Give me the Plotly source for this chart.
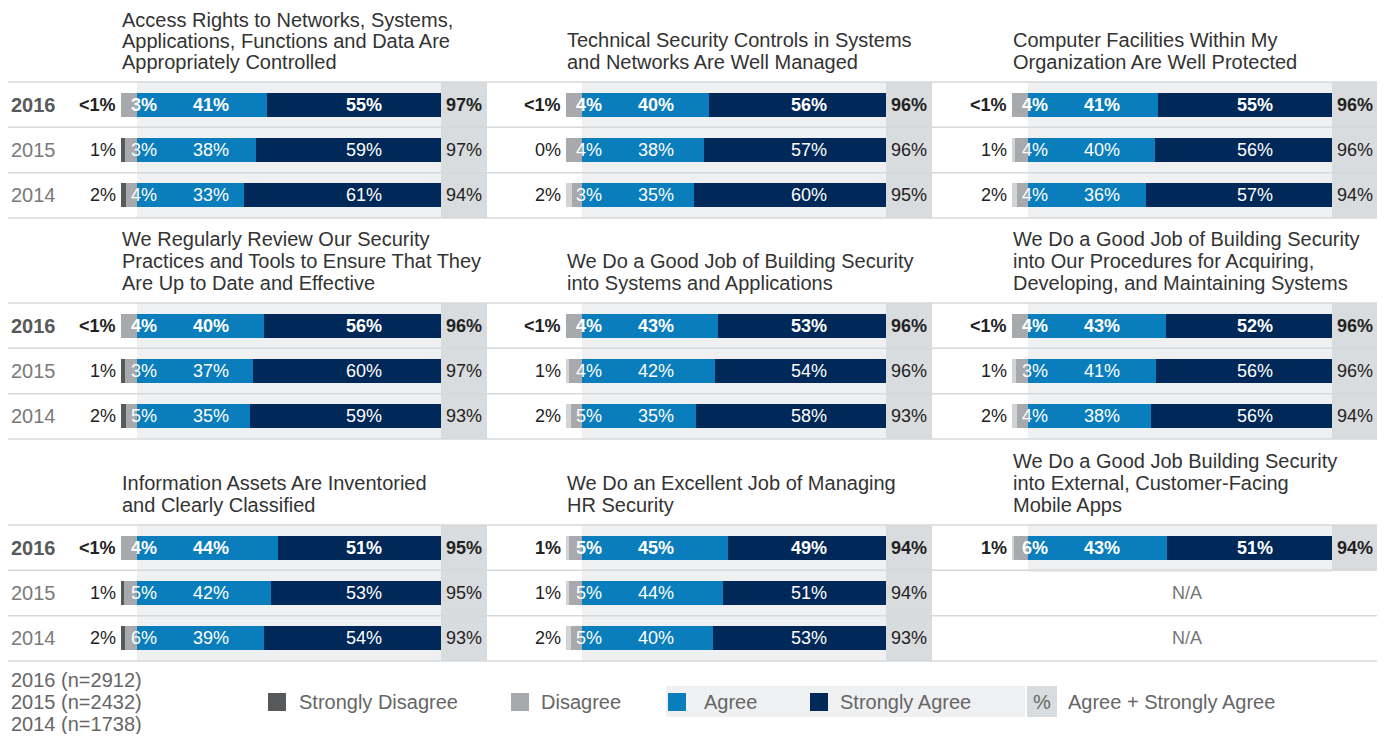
import plotly.graph_objects as go

# browser body has an 8px margin, so the figure sits at (8, 8)
OFF = 8
W, H = 1385 - 2 * OFF, 742 - 2 * OFF

years = ["2016", "2015", "2014"]
sample_sizes = ["2016 (n=2912)", "2015 (n=2432)", "2014 (n=1738)"]

titles = [
    ["Access Rights to Networks, Systems,", "Applications, Functions and Data Are", "Appropriately Controlled"],
    ["Technical Security Controls in Systems", "and Networks Are Well Managed"],
    ["Computer Facilities Within My", "Organization Are Well Protected"],
    ["We Regularly Review Our Security", "Practices and Tools to Ensure That They", "Are Up to Date and Effective"],
    ["We Do a Good Job of Building Security", "into Systems and Applications"],
    ["We Do a Good Job of Building Security", "into Our Procedures for Acquiring,", "Developing, and Maintaining Systems"],
    ["Information Assets Are Inventoried", "and Clearly Classified"],
    ["We Do an Excellent Job of Managing", "HR Security"],
    ["We Do a Good Job Building Security", "into External, Customer-Facing", "Mobile Apps"],
]

# 0.5 stands for "<1%"; None = N/A
strongly_disagree = [
    [0.5, 1, 2], [0.5, 0, 2], [0.5, 1, 2],
    [0.5, 1, 2], [0.5, 1, 2], [0.5, 1, 2],
    [0.5, 1, 2], [1, 1, 2], [1, None, None],
]
disagree = [
    [3, 3, 4], [4, 4, 3], [4, 4, 4],
    [4, 3, 5], [4, 4, 5], [4, 3, 4],
    [4, 5, 6], [5, 5, 5], [6, None, None],
]
agree = [
    [41, 38, 33], [40, 38, 35], [41, 40, 36],
    [40, 37, 35], [43, 42, 35], [43, 41, 38],
    [44, 42, 39], [45, 44, 40], [43, None, None],
]
strongly_agree = [
    [55, 59, 61], [56, 57, 60], [55, 56, 57],
    [56, 60, 59], [53, 54, 58], [52, 56, 56],
    [51, 53, 54], [49, 51, 53], [51, None, None],
]
agree_total = [
    [97, 97, 94], [96, 96, 95], [96, 96, 94],
    [96, 97, 93], [96, 96, 93], [96, 96, 94],
    [95, 95, 93], [94, 94, 93], [94, None, None],
]

C_SD_DARK = "#58595b"
C_SD_LIGHT = "#d1d3d4"
C_DIS = "#a7a9ac"
C_AGREE = "#0a7dbc"
C_SA = "#002858"
C_BG = "#eff0f2"
C_BOX = "#d9dcde"
C_LINE = "#d6d8da"
FONT = "Liberation Sans"
TITLE_SIZE = 20
LABEL_SIZE = 18

col_x = [121, 566, 1012]      # bar start, px
row_top = [82, 303, 525]      # panel top line, px
NEG_PX, POS_PX, BOX_PX = 16, 304, 46
ROW_H = 45.33
NEG = NEG_PX / POS_PX * 100   # width of disagree part in axis units


def px(x):
    return (x - OFF) / W


def py(y):
    return 1 - (y - OFF) / H


def pct(v):
    return "<1%" if 0 < v < 1 else f"{v:g}%"


fig = go.Figure()
shapes, annotations = [], []
layout_axes = {}

for k in range(9):
    r, c = divmod(k, 3)
    n = k + 1
    xa, ya = f"x{n}" if n > 1 else "x", f"y{n}" if n > 1 else "y"
    x0, top = col_x[c], row_top[r]
    layout_axes[f"xaxis{n if n > 1 else ''}"] = dict(
        domain=[px(x0), px(x0 + NEG_PX + POS_PX)], range=[-NEG, 100],
        visible=False, fixedrange=True, anchor=ya)
    layout_axes[f"yaxis{n if n > 1 else ''}"] = dict(
        domain=[py(top + 3 * ROW_H), py(top)], range=[2.5, -0.5],
        visible=False, fixedrange=True, anchor=xa)

    rows = [i for i in range(3) if agree[k][i] is not None]
    seg = {"sd": [], "sd_b": [], "d": [], "d_b": [], "a": [], "sa": [], "sa_b": []}
    for i in rows:
        # values under 1% are not drawn in the original
        sd_v = strongly_disagree[k][i] if strongly_disagree[k][i] >= 1 else 0
        neg = sd_v + disagree[k][i]
        sd_len = sd_v / neg * NEG
        a_len = agree[k][i] / (agree[k][i] + strongly_agree[k][i]) * 100
        seg["sd"].append(sd_len); seg["sd_b"].append(-NEG)
        seg["d"].append(NEG - sd_len); seg["d_b"].append(-NEG + sd_len)
        seg["a"].append(a_len)
        seg["sa"].append(100 - a_len); seg["sa_b"].append(a_len)

    sd_col = C_SD_DARK if c == 0 else C_SD_LIGHT
    for xs, base, col in [(seg["sd"], seg["sd_b"], sd_col),
                          (seg["d"], seg["d_b"], C_DIS),
                          (seg["a"], [0] * len(rows), C_AGREE),
                          (seg["sa"], seg["sa_b"], C_SA)]:
        fig.add_trace(go.Bar(x=xs, y=rows, base=base, orientation="h", width=0.53,
                             marker=dict(color=col, line=dict(width=0)),
                             xaxis=xa, yaxis=ya, showlegend=False, hoverinfo="skip"))

    # backgrounds
    nrows = len(rows)
    bottom = top + (3 * ROW_H if nrows == 3 else ROW_H + 2)
    shapes.append(dict(type="rect", xref="paper", yref="paper", layer="below",
                       x0=px(x0 + NEG_PX), x1=px(x0 + NEG_PX + POS_PX),
                       y0=py(bottom), y1=py(top), fillcolor=C_BG, line_width=0))
    shapes.append(dict(type="rect", xref="paper", yref="paper", layer="below",
                       x0=px(x0 + NEG_PX + POS_PX), x1=px(x0 + NEG_PX + POS_PX + BOX_PX),
                       y0=py(top + (3 * ROW_H if nrows == 3 else ROW_H)), y1=py(top),
                       fillcolor=C_BOX, line_width=0))

    # title, one annotation per line so the line spacing matches
    lines = titles[k]
    gap = 21 if (r == 0 and len(lines) == 3) else 22
    for j, line in enumerate(lines):
        ty = top - 20 - gap * (len(lines) - 1 - j)
        annotations.append(dict(text=line, xref="paper", yref="paper",
                                x=px(x0 - 1), y=py(ty), xanchor="left", yanchor="middle",
                                showarrow=False,
                                font=dict(family=FONT, size=TITLE_SIZE, color="#333333")))

    for i in range(3):
        bold = i == 0
        wt = "bold" if bold else "normal"
        if agree[k][i] is None:
            annotations.append(dict(text="N/A", xref="paper", yref=ya,
                                    x=px(x0 + 175), y=i, xanchor="center", showarrow=False,
                                    font=dict(family=FONT, size=LABEL_SIZE, color="#777777")))
            continue
        common = dict(yref=ya, y=i, showarrow=False, yanchor="middle")
        annotations.append(dict(text=pct(strongly_disagree[k][i]), xref="paper",
                                x=px(x0 - 3), xanchor="right",
                                font=dict(family=FONT, size=LABEL_SIZE, color="#222222", weight=wt), **common))
        annotations.append(dict(text=pct(disagree[k][i]), xref=xa, x=0, xshift=7,
                                xanchor="center",
                                font=dict(family=FONT, size=LABEL_SIZE, color="white", weight=wt), **common))
        annotations.append(dict(text=pct(agree[k][i]), xref=xa, x=24.3, xanchor="center",
                                font=dict(family=FONT, size=LABEL_SIZE, color="white", weight=wt), **common))
        annotations.append(dict(text=pct(strongly_agree[k][i]), xref=xa, x=74.7,
                                xanchor="center",
                                font=dict(family=FONT, size=LABEL_SIZE, color="white", weight=wt), **common))
        annotations.append(dict(text=pct(agree_total[k][i]), xref="paper",
                                x=px(x0 + NEG_PX + POS_PX + BOX_PX / 2), xanchor="center",
                                font=dict(family=FONT, size=LABEL_SIZE, color="#222222", weight=wt), **common))
        if c == 0:
            annotations.append(dict(text=years[i], xref="paper", x=px(9), xanchor="left",
                                    font=dict(family=FONT, size=TITLE_SIZE,
                                              color="#58595b" if bold else "#7a7a7a",
                                              weight=wt), **common))

# horizontal separators
for top in row_top:
    for j in range(4):
        y = top + j * ROW_H
        shapes.append(dict(type="line", xref="paper", yref="paper", layer="below",
                           x0=px(8), x1=px(1378), y0=py(y), y1=py(y),
                           line=dict(color=C_LINE, width=1.5)))

# footer: sample sizes
for i, s in enumerate(sample_sizes):
    annotations.append(dict(text=s, xref="paper", yref="paper", x=px(9), y=py(680 + 22 * i),
                            xanchor="left", yanchor="middle", showarrow=False,
                            font=dict(family=FONT, size=TITLE_SIZE, color="#666666")))

# footer: legend
LY = 702
shapes.append(dict(type="rect", xref="paper", yref="paper", x0=px(666), x1=px(1025),
                   y0=py(717), y1=py(686), fillcolor=C_BG, line_width=0, layer="below"))
shapes.append(dict(type="rect", xref="paper", yref="paper", x0=px(1027), x1=px(1057),
                   y0=py(717), y1=py(686), fillcolor=C_BOX, line_width=0, layer="below"))
legend_items = [(268, 297, C_SD_DARK, "Strongly Disagree"), (511, 539, C_DIS, "Disagree"),
                (668, 702, C_AGREE, "Agree"), (810, 838, C_SA, "Strongly Agree")]
for lx, tx, col, label in legend_items:
    shapes.append(dict(type="rect", xref="paper", yref="paper", x0=px(lx), x1=px(lx + 18),
                       y0=py(LY + 9), y1=py(LY - 9), fillcolor=col, line_width=0))
    annotations.append(dict(text=label, xref="paper", yref="paper", x=px(tx), y=py(LY),
                            xanchor="left", yanchor="middle", showarrow=False,
                            font=dict(family=FONT, size=TITLE_SIZE, color="#666666")))
annotations.append(dict(text="%", xref="paper", yref="paper", x=px(1042), y=py(LY),
                        xanchor="center", yanchor="middle", showarrow=False,
                        font=dict(family=FONT, size=TITLE_SIZE, color="#666666")))
annotations.append(dict(text="Agree + Strongly Agree", xref="paper", yref="paper",
                        x=px(1066), y=py(LY), xanchor="left", yanchor="middle",
                        showarrow=False, font=dict(family=FONT, size=TITLE_SIZE, color="#666666")))

fig.update_layout(
    width=W, height=H, autosize=False,
    margin=dict(l=0, r=0, t=0, b=0),
    paper_bgcolor="white", plot_bgcolor="rgba(0,0,0,0)",
    barmode="overlay", bargap=0,
    shapes=shapes, annotations=annotations,
    font=dict(family=FONT),
    **layout_axes,
)

fig.write_html("out.html")
